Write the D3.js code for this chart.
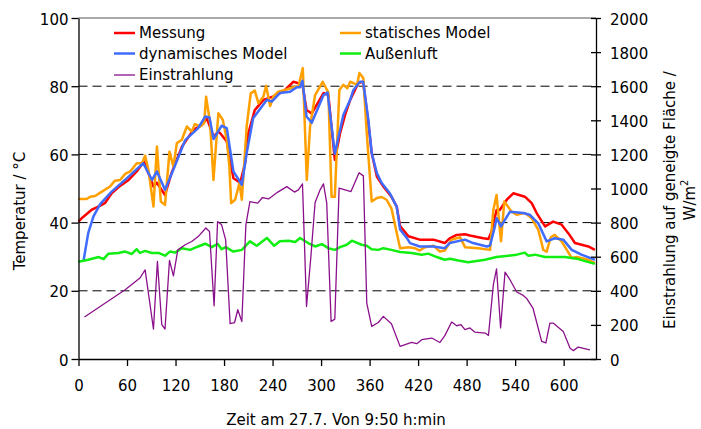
<!DOCTYPE html>
<html><head><meta charset="utf-8">
<script src="https://cdn.jsdelivr.net/npm/d3@7"></script>
<style>
html,body{margin:0;padding:0;background:#fff;}
svg text{font-family:"DejaVu Sans",Verdana,sans-serif;fill:#000;}
</style></head>
<body><svg id="c" width="701" height="429"></svg>
<script>
// ---- data (time in minutes since 9:50) ----
const xTicks = [0,60,120,180,240,300,360,420,480,540,600];
const yTicksLeft = [0,20,40,60,80,100];
const yTicksRight = [0,200,400,600,800,1000,1200,1400,1600,1800,2000];
const seriesNames = ["Messung","statisches Model","dynamisches Model","Außenluft","Einstrahlung"];

const messung = [[0,40.3],[5,41.5],[16,43.7],[27,45],[33,45.8],[41,48.6],[50,50.5],[62,52.5],[72,55],[81,57.9],[92.7,50.6],[97,51.7],[107,48.1],[115,54.5],[128,62.3],[142,67.2],[152.5,68.6],[158.7,70.6],[167,65.2],[173,66.7],[176,66],[183.4,63.8],[191.6,53],[200,51.7],[206,57.4],[210,66.2],[218,73],[228.7,76],[241,77],[253,78.4],[261.7,80.4],[265.8,81.3],[274,80.7],[277,80.5],[282,73],[288.5,72],[303,78],[309,77.4],[317,58.4],[323.5,66.2],[329.7,71.6],[336,76],[346,80.9],[352,81.3],[358.5,69.1],[362.6,60.4],[369,53.5],[377,50.6],[387,47.6],[393.5,44.7],[397.7,39],[408,36],[422,35],[439,35],[453,34],[459,35.4],[467.7,36.4],[478,36.6],[484,36.2],[500.6,35.4],[507,35.2],[511,37.5],[517,43.7],[521,43.7],[529.6,46.7],[537.7,48.6],[552,47.6],[560.5,45.7],[566.6,42.8],[577,38.9],[587,40.3],[597.5,39.4],[605.7,36.9],[614,34],[630.5,33],[638.6,32]];

const statisch = [[0,46.9],[10,46.9],[14.5,47.6],[20.6,47.8],[27,48.8],[39,50.6],[45,52.3],[51.5,52.5],[57.7,54.3],[64,55],[72,57.4],[78.4,57.4],[82.4,59.6],[86.5,55.5],[92.7,44.7],[97,62.3],[101.8,46.2],[107,45.2],[112.5,60.8],[117.4,56.4],[121.6,63.3],[127.8,64.3],[134,68.2],[140,66.7],[144,68.9],[150.4,68.2],[155.4,69.1],[157.8,76.9],[162.8,69.1],[166.9,52.5],[173,72.1],[178.5,70.1],[183.4,64.3],[186.6,56.4],[188.8,45.7],[193.7,46.7],[199,51.6],[202,46.7],[208,68.2],[213,77.9],[218,78.7],[222.5,75],[228.7,77],[232,80.1],[237,74.2],[241,77],[247,78.4],[255.5,78.9],[265.8,79.7],[272,79.9],[277.4,85.3],[282.3,52.5],[286.4,68.2],[292.6,77.4],[302,81.3],[309,78.1],[313,47.6],[317,47.6],[322.6,78.9],[327.6,80.4],[332.5,79.4],[336,81.3],[340,80.9],[344.5,80.4],[347.4,83.9],[352.3,82.3],[356.5,66.2],[362.6,46.2],[369,47.2],[375,47.5],[381,46.7],[387,44.2],[397.7,32.5],[408,32.8],[416,32.5],[422,31.8],[428.5,32.8],[439,33.2],[447,31.5],[453,31.8],[461.5,35],[472,35.7],[478,32.8],[494.5,32.5],[509,32],[513,43.7],[517,48.1],[522.5,34.5],[526.6,46.2],[535.6,43.2],[541.8,42.3],[552,42.8],[560.5,41.3],[568.6,37.9],[574.8,32],[579,31.5],[584,35.7],[589,36.4],[597.5,34.5],[610,29.6],[616,29.9],[630.5,29.1],[638.6,28.1]];

const dynamisch = [[6,28.5],[12,36.9],[18.5,41.8],[27,45.5],[41,49.1],[62,53.5],[80,57.4],[91,52.5],[97,55],[107,49.6],[115.5,54.5],[132,64.2],[148,67.7],[156.6,71.1],[162,70.8],[167,64.5],[177,68.4],[183.4,67.7],[191.6,55],[202,51.1],[208,60.4],[216,70.6],[233,76],[239,75.5],[249,78],[261.7,78.4],[270,79.7],[274,79.7],[277,81.6],[282,71.1],[288.5,69.3],[303,77.4],[308,78.1],[317,60.2],[327.6,71.6],[336,76],[340,78.9],[348,81.3],[352,81.3],[358.5,70.1],[362.6,60.4],[369,54.5],[375,51.6],[385,48.6],[393.5,44.7],[397.7,38],[406,35.5],[410,34],[422,33],[439,33],[453,32.5],[459,34],[478,35],[488,34],[505,33],[509,33.3],[515,38.9],[517,41.3],[522.5,38.9],[533.6,43.2],[550,42.8],[558,42.3],[568.6,39.8],[579,34.5],[589,35.4],[599.5,35],[610,32],[622,30.6],[638.6,29.1]];

const aussenluft = [[0,28.5],[12,29.1],[25,29.9],[31,29.3],[37,30.9],[49.4,31.1],[57.7,31.5],[66,30.8],[72,32.2],[76,31.1],[82.4,31.7],[90.7,31.1],[99,31.1],[107,30.3],[113,31.5],[119.5,31.2],[127.8,32.5],[138,32],[148,33],[156.6,33.8],[165,32.8],[172,33.8],[177,32.2],[182,32.8],[191.6,31.5],[202,32],[212,34.5],[220.5,33.2],[233,35.5],[242,33.2],[249,34.5],[259.6,34.7],[268,34.3],[274,35.5],[284,34],[292.6,33],[301,33.7],[309,32.5],[317,32],[323.5,32.8],[331.7,33.5],[338,34.7],[350,33.5],[356.5,33.2],[362.6,32.2],[370.8,32],[377,32.5],[387,32],[397.7,31.4],[412,31.1],[424.5,30.6],[432.6,30.9],[443,29.9],[453,29.1],[459.5,29.4],[469.7,28.9],[482,28.4],[502.7,29.1],[517,29.9],[531.5,30.3],[542,30.6],[552,31.2],[556,30.3],[564.5,30.6],[577,29.9],[601.6,29.9],[618,29.3],[638.6,27.9]];

const einstrahlung = [[7.4,246],[57.7,406],[76,475],[82.4,523],[92.7,176],[97.6,572],[103,201],[107,176],[112.5,578],[117.4,488],[122.8,640],[132,670],[140,689],[148,718],[157.5,768],[162,748],[167.7,312],[172,806],[177,787],[182,699],[187.5,207],[193,214],[197,289],[202,220],[207,787],[212,923],[221.7,914],[227.5,947],[235,939],[246.5,979],[257.6,1011],[267,979],[272,992],[277,1027],[282,308],[287.4,601],[292.6,918],[298.8,992],[303,1027],[307,914],[312.4,220],[317,234],[322.3,1002],[337,982],[347,1093],[352.3,1074],[356.5,328],[362.6,191],[370.8,214],[377,250],[387,207],[397.7,74],[412,97],[418.3,90],[424.5,113],[436.8,123],[447,97],[453,137],[461.5,217],[467.7,195],[473,201],[478,172],[484,182],[490,158],[503,152],[507,138],[513,435],[517,529],[522,182],[527.5,510],[533.6,465],[542,393],[550,373],[554,357],[562,299],[572.8,103],[578,94],[583,211],[587,211],[599.5,162],[607.8,64],[612,49],[618,70],[632.5,54]];

// ---- layout ----
const W = 701, H = 429;
const m = {left:78.5, right:105, top:18, bottom:70};
const svg = d3.select("#c");
const x = d3.scaleLinear().domain([0,640]).range([m.left, W-m.right]);
const yL = d3.scaleLinear().domain([0,100]).range([H-m.bottom, m.top]);
const yR = d3.scaleLinear().domain([0,2000]).range([H-m.bottom, m.top]);
const FS = 15;

// gridlines
svg.append("g").selectAll("line").data([20,40,60,80]).join("line")
  .attr("x1", x(0)).attr("x2", x(640))
  .attr("y1", d=>yL(d)).attr("y2", d=>yL(d))
  .attr("stroke","#000").attr("stroke-width",1).attr("stroke-dasharray","9,5");
// top border
svg.append("line").attr("x1",x(0)).attr("x2",x(640)).attr("y1",yL(100)).attr("y2",yL(100))
  .attr("stroke","#555").attr("stroke-width",1);

// series lines
const lineL = d3.line().x(d=>x(d[0])).y(d=>yL(d[1]));
const lineR = d3.line().x(d=>x(d[0])).y(d=>yR(d[1]));
const plotG = svg.append("g");
plotG.append("path").datum(messung).attr("d",lineL).attr("fill","none").attr("stroke","#ff0000").attr("stroke-width",2.5).attr("stroke-linejoin","round");
plotG.append("path").datum(statisch).attr("d",lineL).attr("fill","none").attr("stroke","#ffa000").attr("stroke-width",2.5).attr("stroke-linejoin","round");
plotG.append("path").datum(dynamisch).attr("d",lineL).attr("fill","none").attr("stroke","#3f6cff").attr("stroke-width",2.5).attr("stroke-linejoin","round");
plotG.append("path").datum(aussenluft).attr("d",lineL).attr("fill","none").attr("stroke","#11ee11").attr("stroke-width",2.5).attr("stroke-linejoin","round");
plotG.append("path").datum(einstrahlung).attr("d",lineR).attr("fill","none").attr("stroke","#8b108b").attr("stroke-width",1.3).attr("stroke-linejoin","round");

// axes
const axL = svg.append("g").attr("transform",`translate(${m.left},0)`)
  .call(d3.axisLeft(yL).tickValues(yTicksLeft).tickFormat(d3.format("d")).tickSize(7).tickPadding(3).tickSizeOuter(0));
const axR = svg.append("g").attr("transform",`translate(${W-m.right},0)`)
  .call(d3.axisRight(yR).tickValues(yTicksRight).tickFormat(d3.format("d")).tickSize(5).tickPadding(9).tickSizeOuter(0));
axR.selectAll(".tick line").attr("x1",-5);
const axB = svg.append("g").attr("transform",`translate(0,${H-m.bottom})`)
  .call(d3.axisBottom(x).tickValues(xTicks).tickFormat(d3.format("d")).tickSize(7).tickPadding(14).tickSizeOuter(0));
[axL,axR,axB].forEach(a=>{
  a.selectAll("path.domain").attr("stroke","#000").attr("stroke-width",1.3);
  a.selectAll(".tick line").attr("stroke","#000").attr("stroke-width",1.3);
  a.selectAll("text").attr("font-size",FS).attr("font-family","DejaVu Sans, Verdana, sans-serif").attr("fill","#000");
});
axL.selectAll("text").attr("dy","0.4em");
axR.selectAll("text").attr("dy","0.4em");

// axis titles
svg.append("text").attr("transform",`translate(25,211) rotate(-90)`)
  .attr("text-anchor","middle").attr("font-size",FS).text("Temperatur / °C");
svg.append("text").attr("x",336).attr("y",425).attr("text-anchor","middle")
  .attr("font-size",FS).text("Zeit am 27.7. Von 9:50 h:min");
const rt = svg.append("text").attr("transform",`translate(675,200) rotate(-90)`)
  .attr("text-anchor","middle").attr("font-size",FS);
rt.append("tspan").attr("x",0).attr("y",0).text("Einstrahlung auf geneigte Fläche /");
const l2 = rt.append("tspan").attr("x",0).attr("y",20);
l2.append("tspan").text("W/m");
l2.append("tspan").attr("dy",-7).attr("font-size",10).text("2");

// legend
const legendColors = ["#ff0000","#ffa000","#3f6cff","#11ee11","#8b108b"];
const legendPos = [[114,33],[340,33],[114,53.5],[340,53.5],[114,75]];
const lg = svg.append("g");
seriesNames.forEach((n,i)=>{
  const [lx,ly] = legendPos[i];
  lg.append("line").attr("x1",lx).attr("x2",lx+21).attr("y1",ly).attr("y2",ly)
    .attr("stroke",legendColors[i]).attr("stroke-width", i===4?1.3:2.5);
  lg.append("text").attr("x",lx+25).attr("y",ly).attr("dy","0.36em")
    .attr("font-size",FS).text(n);
});
</script></body></html>
